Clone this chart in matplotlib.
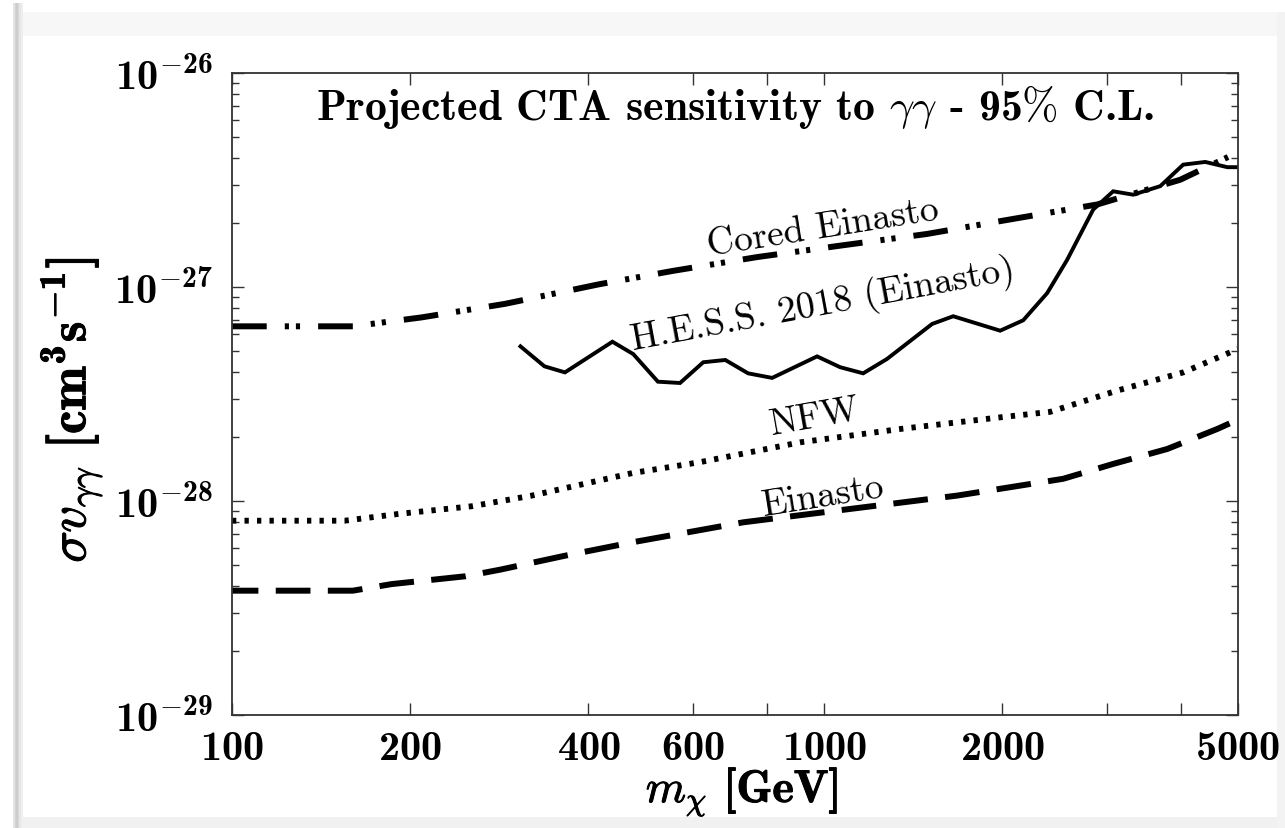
import matplotlib
matplotlib.use('Agg')
import matplotlib.pyplot as plt
import matplotlib.patheffects as pe
from matplotlib.patches import Rectangle
import numpy as np

# Computer Modern everywhere, with the real bold face for \mathbf
plt.rcParams['mathtext.fontset'] = 'custom'
plt.rcParams['mathtext.rm'] = 'cmr10'
plt.rcParams['mathtext.it'] = 'cmmi10'
plt.rcParams['mathtext.bf'] = 'cmb10'
plt.rcParams['mathtext.fallback'] = 'cm'
plt.rcParams['lines.scale_dashes'] = False
plt.rcParams['axes.unicode_minus'] = False

# dark matter mass [GeV] and <sigma v> limits [cm^3 s^-1]
cored_m = [100, 160, 209, 289, 417, 556, 771, 1064, 1493, 1960, 2892, 3993, 4810]
cored_sv = [6.55e-28, 6.55e-28, 7.21e-28, 8.34e-28, 1.03e-27, 1.19e-27, 1.38e-27,
            1.56e-27, 1.77e-27, 2.02e-27, 2.43e-27, 3.17e-27, 4.05e-27]

nfw_m = [100, 155, 191, 254, 321, 474, 618, 911, 1344, 1983, 2409, 3126, 4040, 5000]
nfw_sv = [8.09e-29, 8.09e-29, 8.70e-29, 9.45e-29, 1.06e-28, 1.35e-28, 1.52e-28,
          1.88e-28, 2.17e-28, 2.46e-28, 2.61e-28, 3.28e-28, 3.99e-28, 5.13e-28]

ein_m = [100, 160, 186, 248, 283, 365, 474, 730, 1106, 1678, 2534, 3077, 3797, 4612, 5000]
ein_sv = [3.81e-29, 3.81e-29, 4.09e-29, 4.45e-29, 4.77e-29, 5.55e-29, 6.41e-29, 7.95e-29,
          9.18e-29, 1.06e-28, 1.27e-28, 1.49e-28, 1.75e-28, 2.17e-28, 2.40e-28]

hess_m = [307, 337, 365, 439, 476, 524, 571, 625, 681, 744, 817, 973, 1064, 1164, 1277,
          1522, 1652, 1983, 2169, 2381, 2573, 2847, 3077, 3326, 3696, 4040, 4402, 4797, 5000]
hess_sv = [5.28e-28, 4.26e-28, 3.99e-28, 5.55e-28, 4.86e-28, 3.61e-28, 3.56e-28, 4.45e-28,
           4.56e-28, 3.95e-28, 3.76e-28, 4.74e-28, 4.22e-28, 3.95e-28, 4.61e-28, 6.72e-28,
           7.30e-28, 6.25e-28, 6.99e-28, 9.37e-28, 1.34e-27, 2.30e-27, 2.80e-27, 2.70e-27,
           2.96e-27, 3.73e-27, 3.84e-27, 3.63e-27, 3.63e-27]

xticks_major = [100, 200, 400, 600, 1000, 2000, 5000]
xticks_minor = [800, 3000, 4000]
yticks = [1e-29, 1e-28, 1e-27, 1e-26]

W, H = 1285, 829
fig = plt.figure(figsize=(W / 100, H / 100), dpi=100)


def fx(px):
    return px / W


def fy(py):
    return 1 - py / H


# page background around the panel
fig.add_artist(Rectangle((fx(22), fy(37)), fx(1255), 24 / H, transform=fig.transFigure,
                         color='#f7f7f7', lw=0, zorder=-5))
fig.add_artist(Rectangle((fx(22), 0), fx(1263), 11 / H, transform=fig.transFigure,
                         color='#f1f1f1', lw=0, zorder=-5))
fig.add_artist(Rectangle((fx(1277), 0), fx(8), fy(13), transform=fig.transFigure,
                         color='#f3f3f3', lw=0, zorder=-5))
for i, c in enumerate(['#e4e4e4', '#d2d2d2', '#cdcdcd', '#d8d8d8', '#e6e6e6', '#efefef']):
    fig.add_artist(Rectangle((fx(13 + i * 1.6), 0), 1.7 / W, fy(4), transform=fig.transFigure,
                             color=c, lw=0, zorder=-5))

ax = fig.add_axes([fx(232), fy(716), fx(1006), 642 / H])
ax.set_xscale('log')
ax.set_yscale('log')

ax.plot(cored_m, cored_sv, color='black', lw=4.3,
        linestyle=(0, (25, 13, 3, 5, 3, 13)), dash_capstyle='butt')
ax.plot(nfw_m, nfw_sv, color='black', lw=4.2, linestyle=(0, (3.1, 5.9)), dash_capstyle='butt')
ax.plot(ein_m, ein_sv, color='black', lw=4.3, linestyle=(6, (25, 12.5)), dash_capstyle='butt')
ax.plot(hess_m, hess_sv, color='black', lw=2.8, solid_joinstyle='miter')

ax.set_xlim(100, 5000)
ax.set_ylim(1e-29, 1e-26)

ax.set_xticks(xticks_major)
ax.set_xticklabels([r'$\mathbf{%d}$' % t for t in xticks_major])
ax.set_xticks(xticks_minor, minor=True)
ax.xaxis.set_minor_formatter(matplotlib.ticker.NullFormatter())
ax.set_yticks(yticks)
ax.set_yticklabels([r'$\mathbf{10^{%d}}$' % int(np.log10(t)) for t in yticks])
ax.yaxis.set_minor_locator(matplotlib.ticker.LogLocator(base=10, subs=np.arange(2, 10)))
ax.yaxis.set_minor_formatter(matplotlib.ticker.NullFormatter())

ax.tick_params(axis='both', which='both', direction='in', top=True, right=True,
               color='#333333', width=1.0, labelsize=30.5)
ax.tick_params(axis='x', which='both', length=8.5, pad=8)
ax.tick_params(axis='y', which='major', length=8.5, pad=14)
ax.tick_params(axis='y', which='minor', length=5)
for s in ax.spines.values():
    s.set_linewidth(1.3)
    s.set_color('#333333')

ax.set_xlabel(r'$m_\chi$ $\mathbf{[GeV]}$', fontsize=33,
              path_effects=[pe.withStroke(linewidth=0.7, foreground='black')])
ax.set_ylabel(r'$\sigma v_{\gamma\gamma}$ $\mathbf{[cm^3s^{-1}]}$', fontsize=38,
              path_effects=[pe.withStroke(linewidth=0.7, foreground='black')])
ax.xaxis.set_label_coords(0.507, -0.081)
ax.yaxis.set_label_coords(-0.126, 0.475)

ax.text(0.5, 0.948, r'Projected CTA sensitivity to $\gamma\gamma$ - 95$\%$ C.L.',
        transform=ax.transAxes, ha='center', va='center', fontsize=31.5, family='cmb10')

label_kw = dict(ha='center', va='center', family='cmr10', fontsize=27, rotation_mode='anchor')
ax.text(995, 1.91e-27, 'Cored Einasto', rotation=9, **label_kw)
ax.text(994, 8.33e-28, 'H.E.S.S. 2018 (Einasto)', rotation=10.5, **label_kw)
ax.text(966, 2.47e-28, 'NFW', rotation=10, **label_kw)
ax.text(995, 1.06e-28, 'Einasto', rotation=9, **label_kw)

fig.savefig('out.png', dpi=100, facecolor='white')
